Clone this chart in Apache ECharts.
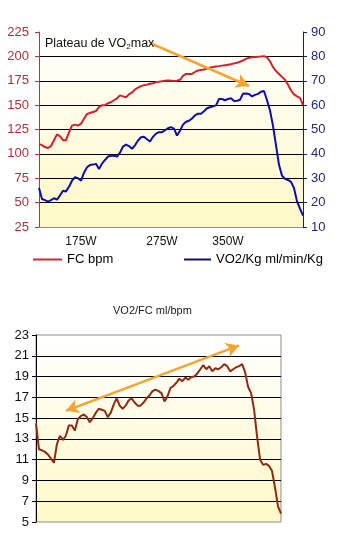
<!DOCTYPE html>
<html>
<head>
<meta charset="utf-8">
<script src="https://cdn.jsdelivr.net/npm/echarts@6/dist/echarts.min.js"></script>
<style>html,body{margin:0;padding:0;background:#fff;}#c{width:337px;height:554px;}</style>
</head>
<body>
<div id="c"></div>
<script>
// ---- Top chart data (89 samples across the test) ----
const fcBpm = [110,109,107,106,108,114,120,118,114,114,122,129,130,129,131,136,141,142,143,144,
  148,150,150,152,153,155,157,160,159,158,161,163,166,168,169.5,170.5,171,172,172.5,173.6,
  174,174.5,175,175.3,175,174.7,175,176,180,182,182,182,184,185.5,186,186.5,187.5,188.5,189,189.7,
  190,190.5,191,191.5,192,192.8,193.5,194.5,196,197.5,198.5,199,199.3,199.5,200,200.2,199,195,189,185,
  182,179,176,171,165,161,159,157.5,150];
const vo2Kg = [26,21.5,21,20.4,21,21.8,21.2,23,24.9,24.6,26.5,29,30.4,30,29,32.3,34.5,35.4,35.6,35.9,
  33.8,36,37.5,38.9,39.2,39.2,38.9,40.5,43,43.8,43.2,42.1,43.5,45.5,46.8,47,46,45.1,47,48.3,
  48.9,48.9,49.7,50.5,51,50.4,47.5,49.5,52,53.2,53.6,54.5,55.8,56.5,56.5,57.5,58.7,59.1,59.5,59.9,
  62.5,62.5,62,62.5,62.8,61.7,61.8,62.2,64.7,64.8,64.6,63.6,64.2,64.6,65.5,65.8,62,57.8,51.5,43.5,
  35.5,31,29.8,29.3,28.5,26,20.5,17.5,14.7];
const topTickLabels = ['175W','275W','350W'];
const topTickIndex = [14,41,63];
const topCategories = fcBpm.map((_, i) => String(i));

// ---- Bottom chart data (83 samples) ----
const vo2PerFc = [14.5,12,11.9,11.75,11.5,11.1,10.7,12.5,13.3,12.9,13.3,14.3,14.3,13.8,14.9,15.2,15.35,15.1,14.6,15,
  15.5,15.9,15.8,15.7,15.1,15.5,16.3,16.9,16.2,15.9,16.2,16.7,16.9,16.5,16.2,16.2,16.5,16.9,17.2,17.6,
  17.75,17.6,17.4,16.6,17.1,17.9,18.1,18.4,18.8,18.55,18.9,18.7,18.95,19,19.3,19.7,20.1,19.7,20,19.5,
  19.8,19.7,19.9,20.2,20,19.5,19.7,19.9,20,20.2,19.4,18,17.4,15.8,13.2,11,10.5,10.6,10.4,9.9,
  8.3,6.5,5.8];
const bottomCategories = vo2PerFc.map((_, i) => String(i));

// annotation anchor values (data units)
const plateauArrow = [[37, 213.7], [70, 169.6]];
const trendArrow = [[10, 15.7], [68, 22.0]];

const chart = echarts.init(document.getElementById('c'), null, {renderer: 'canvas'});
const bg = () => new echarts.graphic.LinearGradient(0, 0, 0, 1, [
  {offset: 0, color: '#ffffff'}, {offset: 1, color: '#fff8c6'}]);
const FONT = 'Liberation Sans, Arial, sans-serif';
const orange = '#f2a531';

chart.setOption({
  animation: false,
  backgroundColor: '#ffffff',
  textStyle: {fontFamily: FONT},
  title: [
    {text: 'Plateau de VO{s|2}max', left: 45, top: 36, padding: 0,
     textStyle: {fontSize: 12.5, fontWeight: 'normal', color: '#111', fontFamily: FONT,
       rich: {s: {fontSize: 8, padding: [7, 0, 0, 0], color: '#111', fontFamily: FONT}}}},
    {text: 'VO2/FC ml/bpm', left: 113, top: 305, padding: 0,
     textStyle: {fontSize: 11, fontWeight: 'normal', color: '#222', fontFamily: FONT}}
  ],
  legend: [
    {data: ['FC bpm'], left: 33, top: 253, itemWidth: 29, itemHeight: 2, icon: 'rect', padding: 0,
     textStyle: {fontSize: 13, color: '#000', fontFamily: FONT}},
    {data: ['VO2/Kg ml/min/Kg'], left: 184, top: 253, itemWidth: 27, itemHeight: 2, icon: 'rect', padding: 0,
     textStyle: {fontSize: 13, color: '#000', fontFamily: FONT}}
  ],
  grid: [
    {left: 39, top: 32, width: 264, height: 195, show: true, borderWidth: 0, backgroundColor: bg()},
    {left: 36, top: 335, width: 245, height: 187, show: true, borderWidth: 1, borderColor: '#8c8c8c', backgroundColor: bg()}
  ],
  xAxis: [
    {gridIndex: 0, type: 'category', data: topCategories, boundaryGap: false,
     axisLine: {show: true, lineStyle: {color: '#8c8c8c', width: 1}},
     axisTick: {show: false},
     axisLabel: {margin: 9, fontSize: 12, color: '#111', fontFamily: FONT,
       interval: (i) => topTickIndex.indexOf(i) >= 0,
       formatter: (v, i) => { const k = topTickIndex.indexOf(i); return k >= 0 ? topTickLabels[k] : ''; }}},
    {gridIndex: 1, type: 'category', data: bottomCategories, boundaryGap: false,
     axisLine: {show: false}, axisTick: {show: false}, axisLabel: {show: false}}
  ],
  yAxis: [
    {gridIndex: 0, type: 'value', min: 25, max: 225, interval: 25, position: 'left',
     axisLine: {show: true, lineStyle: {color: '#c0303c', width: 1}},
     axisTick: {show: true, length: 4, lineStyle: {color: '#c0303c'}},
     axisLabel: {margin: 10, fontSize: 13, color: '#a8323a', fontFamily: FONT},
     splitLine: {show: true, showMaxLine: false, showMinLine: false, lineStyle: {color: '#000', width: 1}}},
    {gridIndex: 0, type: 'value', min: 10, max: 90, interval: 10, position: 'right',
     axisLine: {show: true, lineStyle: {color: '#1a1a8c', width: 1}},
     axisTick: {show: true, length: 4, lineStyle: {color: '#1a1a8c'}},
     axisLabel: {margin: 8, fontSize: 13, color: '#1f2a78', fontFamily: FONT},
     splitLine: {show: false}},
    {gridIndex: 1, type: 'value', min: 5, max: 23, interval: 2, position: 'left',
     axisLine: {show: true, lineStyle: {color: '#000', width: 1}},
     axisTick: {show: true, length: 4, lineStyle: {color: '#000'}},
     axisLabel: {margin: 7, fontSize: 13, color: '#111', fontFamily: FONT},
     splitLine: {show: true, showMaxLine: false, showMinLine: false, lineStyle: {color: '#000', width: 1}}}
  ],
  series: [
    {name: 'FC bpm', type: 'line', xAxisIndex: 0, yAxisIndex: 0, data: fcBpm,
     showSymbol: false, symbol: 'none', lineStyle: {color: '#d2202e', width: 2}, itemStyle: {color: '#c0303c'},
     markLine: {silent: true, symbol: ['none', 'arrow'], symbolSize: [11, 13],
       label: {show: false}, lineStyle: {color: orange, width: 2.5, type: 'solid'},
       data: [[{coord: plateauArrow[0]}, {coord: plateauArrow[1]}]]}},
    {name: 'VO2/Kg ml/min/Kg', type: 'line', xAxisIndex: 0, yAxisIndex: 1, data: vo2Kg,
     showSymbol: false, symbol: 'none', lineStyle: {color: '#0c0cb0', width: 2}, itemStyle: {color: '#101070'}},
    {name: 'VO2/FC ml/bpm', type: 'line', xAxisIndex: 1, yAxisIndex: 2, data: vo2PerFc,
     showSymbol: false, symbol: 'none', lineStyle: {color: '#8e2c12', width: 2}, itemStyle: {color: '#8e2c12'},
     markLine: {silent: true, symbol: ['arrow', 'arrow'], symbolSize: [11, 13],
       label: {show: false}, lineStyle: {color: orange, width: 2.5, type: 'solid'},
       data: [[{coord: trendArrow[0]}, {coord: trendArrow[1]}]]}}
  ]
});
</script>
</body>
</html>
